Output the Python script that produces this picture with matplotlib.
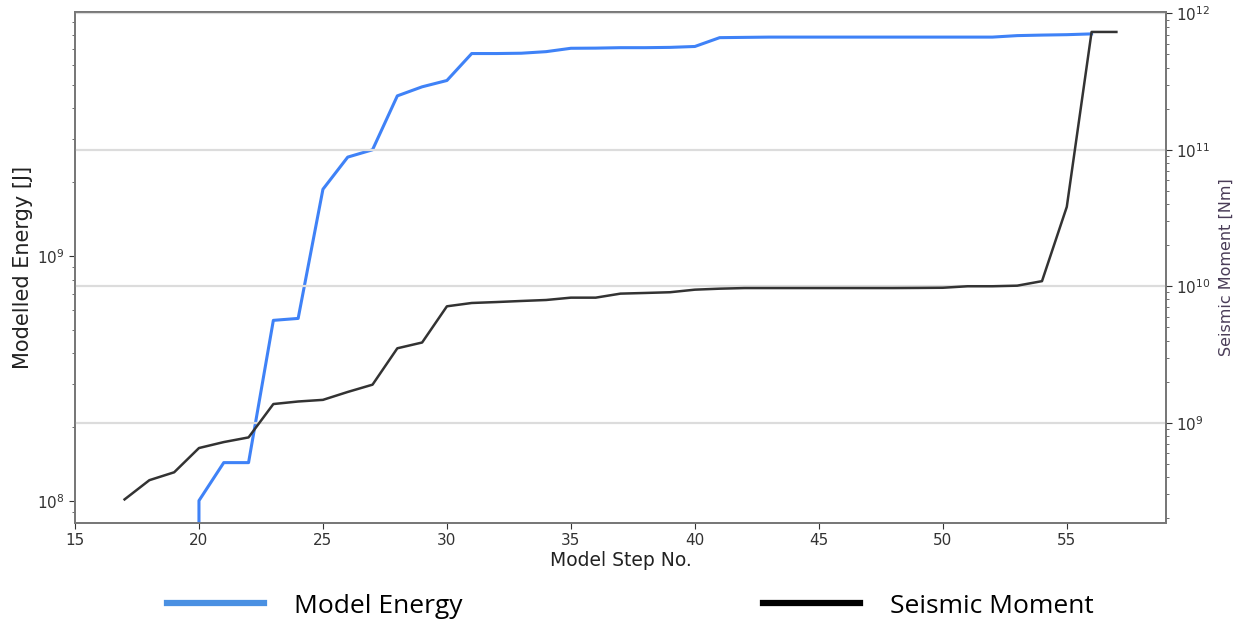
import numpy as np
import matplotlib.pyplot as plt
from matplotlib.lines import Line2D

# model step numbers
steps_energy = [19, 20, 21, 22, 23, 24, 25, 26, 27, 28, 29, 30, 31, 32, 33, 34, 35, 36, 37,
                38, 39, 40, 41, 42, 43, 44, 45, 46, 47, 48, 49, 50, 51, 52, 53, 54, 55, 56]
# modelled energy [J] (0 at step 19 -> drops off the log axis)
energy = [0, 1.0e8, 1.43e8, 1.43e8, 5.45e8, 5.55e8, 1.87e9, 2.53e9, 2.71e9, 4.5e9, 4.9e9,
          5.2e9, 6.7e9, 6.7e9, 6.72e9, 6.82e9, 7.04e9, 7.05e9, 7.08e9, 7.08e9, 7.1e9, 7.16e9,
          7.78e9, 7.8e9, 7.82e9, 7.82e9, 7.82e9, 7.82e9, 7.82e9, 7.82e9, 7.82e9, 7.82e9,
          7.82e9, 7.82e9, 7.93e9, 7.97e9, 8.0e9, 8.06e9]

steps_moment = [17, 18, 19, 20, 21, 22, 23, 24, 25, 26, 27, 28, 29, 30, 31, 32, 33, 34, 35,
                36, 37, 38, 39, 40, 41, 42, 43, 44, 45, 46, 47, 48, 49, 50, 51, 52, 53, 54,
                55, 56, 57]
# seismic moment [Nm]
moment = [2.74e8, 3.79e8, 4.33e8, 6.52e8, 7.21e8, 7.8e8, 1.37e9, 1.43e9, 1.47e9, 1.68e9,
          1.9e9, 3.51e9, 3.87e9, 7.13e9, 7.54e9, 7.66e9, 7.8e9, 7.93e9, 8.25e9, 8.25e9,
          8.83e9, 8.93e9, 9.04e9, 9.44e9, 9.6e9, 9.7e9, 9.7e9, 9.7e9, 9.7e9, 9.7e9, 9.7e9,
          9.7e9, 9.72e9, 9.75e9, 1.0e10, 1.0e10, 1.01e10, 1.09e10, 3.82e10, 7.31e11, 7.31e11]

fig = plt.figure(figsize=(12.54, 6.23), dpi=100)
ax = fig.add_axes([0.0598, 0.161, 0.8700, 0.8197])
ax2 = ax.twinx()

ax.plot(steps_energy, energy, color='#3f82f7', lw=2.2, zorder=3)
ax.set_yscale('log')
ax.set_ylim(10**7.91, 9.9e9)
ax.set_xlim(15, 59)
ax.set_xticks([15, 20, 25, 30, 35, 40, 45, 50, 55])

ax2.plot(steps_moment, moment, color='#333333', lw=1.8, zorder=3)
ax2.set_yscale('log')
ax2.set_ylim(10**8.267, 10**12.01)
ax2.grid(axis='y', which='major', color='#dcdcdc', lw=1.6, zorder=0)
ax2.set_axisbelow(True)

for a in (ax, ax2):
    for s in a.spines.values():
        s.set_color('#777777')
        s.set_linewidth(1.3)
    a.tick_params(labelsize=11, colors='#333333', length=4)
    a.tick_params(which='minor', length=2.5, colors='#555555')

ax.set_xlabel('Model Step No.', fontsize=13.5, color='#222222', labelpad=2)
ax.set_ylabel('Modelled Energy [J]', fontsize=15, color='#222222')
ax.yaxis.set_label_coords(-0.0385, 0.5)
ax2.set_ylabel('Seismic Moment [Nm]', fontsize=11.5, color='#4a3d58', labelpad=6)

handles = [Line2D([], [], color='#4a90e2', lw=4.5),
           Line2D([], [], color='black', lw=4.5)]
fig.legend(handles, ['Model Energy', 'Seismic Moment'], loc='center left',
           bbox_to_anchor=(0.114, 0.027), ncol=2, frameon=False,
           prop={'family': 'Open Sans', 'size': 19}, handlelength=3.67,
           handletextpad=1.14, columnspacing=11.4)

fig.savefig('out.png', dpi=100)
